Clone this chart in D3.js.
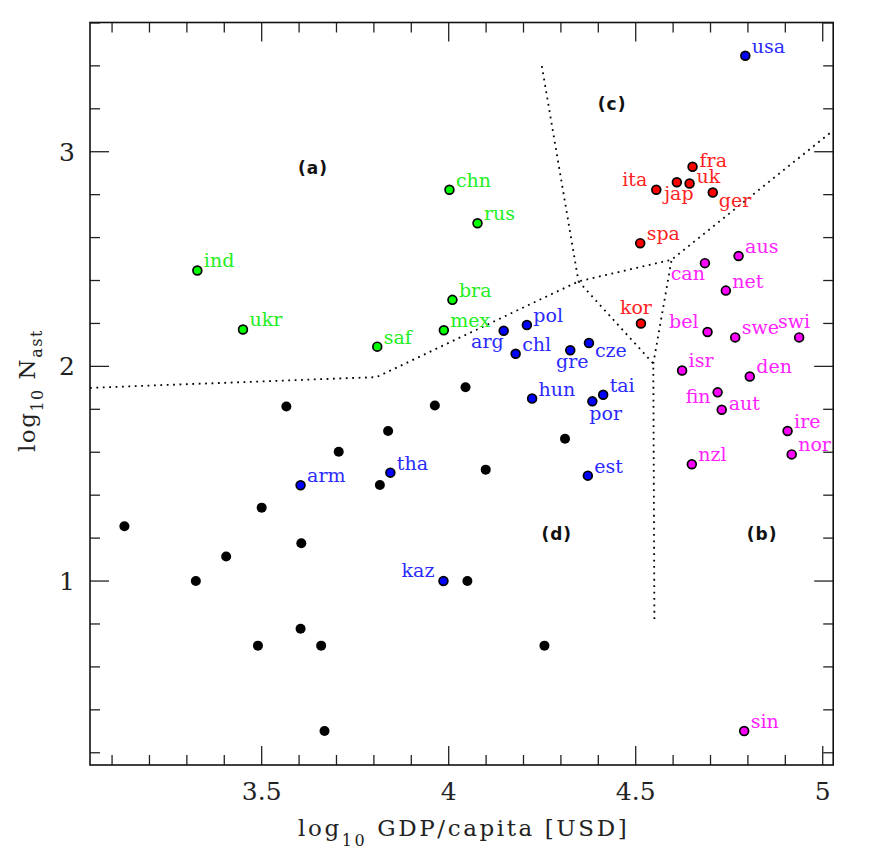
<!DOCTYPE html>
<html>
<head>
<meta charset="utf-8">
<script src="https://cdn.jsdelivr.net/npm/d3@7"></script>
<style>
  html, body { margin: 0; padding: 0; background: #fff; }
  svg { display: block; }
</style>
</head>
<body>
<svg id="chart" width="885" height="860"></svg>
<script>
// ---------------- DATA ----------------
const names   = ['ind','ukr','saf','chn','rus','bra','mex',
                 'usa','fra','uk','ita','jap','ger','spa','kor',
                 'aus','can','net','bel','swe','swi','isr','den','fin','aut','ire','nor','nzl','sin',
                 'pol','arg','chl','gre','cze','hun','por','tai','est','tha','arm','kaz'];
const logGDP  = [3.328,3.450,3.809,4.002,4.077,4.010,3.987,
                 4.793,4.652,4.644,4.555,4.610,4.706,4.512,4.514,
                 4.775,4.685,4.741,4.692,4.766,4.937,4.624,4.805,4.719,4.730,4.906,4.917,4.650,4.790,
                 4.209,4.147,4.179,4.325,4.375,4.223,4.384,4.413,4.372,3.844,3.604,3.986];
const logNast = [2.447,2.172,2.092,2.823,2.667,2.310,2.168,
                 3.447,2.930,2.852,2.823,2.858,2.810,2.574,2.200,
                 2.514,2.481,2.353,2.160,2.135,2.135,1.981,1.953,1.879,1.798,1.699,1.590,1.544,0.301,
                 2.193,2.166,2.059,2.075,2.109,1.850,1.837,1.868,1.491,1.505,1.446,1.000];
const group   = ['a','a','a','a','a','a','a',
                 'd','c','c','c','c','c','c','c',
                 'b','b','b','b','b','b','b','b','b','b','b','b','b','b',
                 'd','d','d','d','d','d','d','d','d','d','d','d'];
// label placement code relative to its point
const placement = ['ne','ne','ne','ne','ne','ne','ne',
                   'ne','e','e','w','s','se','ne','n',
                   'ne','sw','ne','w','ne','n','ne','ne','wsw','e','ne','ne','ne','ne',
                   'ne','sw','ne','s','se','ne','sse','ne','ne','ne','ne','w'];

// unlabelled countries
const otherGDP  = [3.566,3.963,4.045,3.838,3.706,3.816,4.099,4.311,3.500,3.133,
                   3.606,3.405,3.324,4.050,3.604,3.490,3.659,4.256,3.668];
const otherNast = [1.813,1.818,1.903,1.699,1.602,1.447,1.519,1.663,1.342,1.255,
                   1.176,1.114,1.000,1.000,0.778,0.699,0.699,0.699,0.301];

// region boundaries (dotted)
const boundaries = [
  [[3.041,1.900],[3.807,1.950],[4.347,2.396],[4.596,2.497],[5.028,3.099]],
  [[4.249,3.399],[4.347,2.396]],
  [[4.347,2.396],[4.547,2.013],[4.550,0.812]],
  [[4.547,2.013],[4.596,2.497]]
];
const regionNames = ['(a)','(c)','(d)','(b)'];
const regionX     = [3.637,4.437,4.289,4.838];
const regionY     = [2.922,3.220,1.221,1.221];

const xMajorTicks = [3.5, 4, 4.5, 5];
const xTickLabels = ['3.5','4','4.5','5'];
const yMajorTicks = [1, 2, 3];
const yTickLabels = ['1','2','3'];

const groupColor = {a:'#00ff00', b:'#ff00ff', c:'#ff0000', d:'#0000ff'};
const labelColor = {a:'#22ee22', b:'#ff22ff', c:'#ff2222', d:'#2a2aff'};

// ---------------- LAYOUT ----------------
const svg = d3.select('#chart');
const L = 90, R = 833.2, T = 22.5, B = 765;
const x = d3.scaleLinear().domain([3.041, 5.028]).range([L, R]);
const y = d3.scaleLinear().domain([0.143, 3.602]).range([B, T]);

// ticks (inward on all four sides)
const xMinor = d3.range(31, 51).map(d => d/10).filter(v => v >= 3.041 && v <= 5.028);
const yMinor = d3.range(1, 19).map(d => d/5).filter(v => v >= 0.143 && v <= 3.602);
const isMajX = v => xMajorTicks.some(m => Math.abs(m - v) < 1e-6);
const isMajY = v => yMajorTicks.some(m => Math.abs(m - v) < 1e-6);

const axisG = svg.append('g').attr('stroke', '#222').attr('stroke-width', 1.3);
xMinor.forEach(v => {
  const len = isMajX(v) ? 19 : 10;
  axisG.append('line').attr('x1', x(v)).attr('x2', x(v)).attr('y1', B).attr('y2', B - len);
  axisG.append('line').attr('x1', x(v)).attr('x2', x(v)).attr('y1', T).attr('y2', T + len);
});
yMinor.forEach(v => {
  const len = isMajY(v) ? 19 : 10;
  axisG.append('line').attr('y1', y(v)).attr('y2', y(v)).attr('x1', L).attr('x2', L + len);
  axisG.append('line').attr('y1', y(v)).attr('y2', y(v)).attr('x1', R).attr('x2', R - len);
});
svg.append('rect').attr('x', L).attr('y', T).attr('width', R - L).attr('height', B - T)
  .attr('fill', 'none').attr('stroke', '#111').attr('stroke-width', 1.6);

// tick labels
const tickFont = "'DejaVu Serif', serif";
svg.append('g').selectAll('text').data(xMajorTicks).join('text')
  .attr('x', d => x(d)).attr('y', 800)
  .attr('text-anchor', 'middle').attr('font-family', tickFont).attr('font-size', 25)
  .attr('fill', '#222').text((d, i) => xTickLabels[i]);
svg.append('g').selectAll('text').data(yMajorTicks).join('text')
  .attr('x', 67).attr('y', d => y(d) + 9)
  .attr('text-anchor', 'middle').attr('font-family', tickFont).attr('font-size', 25)
  .attr('fill', '#222').text((d, i) => yTickLabels[i]);

// axis titles
const xt = svg.append('text').attr('x', 298).attr('y', 836)
  .attr('font-family', tickFont).attr('font-size', 23).attr('fill', '#222')
  .attr('letter-spacing', 2.6);
xt.append('tspan').text('log');
xt.append('tspan').attr('font-size', 16).attr('dy', 10).text('10');
xt.append('tspan').attr('dy', -10).text(' GDP/capita [USD]');

const yt = svg.append('text').attr('transform', 'translate(35,452) rotate(-90)')
  .attr('font-family', tickFont).attr('font-size', 23).attr('fill', '#222')
  .attr('letter-spacing', 1.5);
yt.append('tspan').text('log');
yt.append('tspan').attr('font-size', 16).attr('dy', 8).text('10');
yt.append('tspan').attr('dy', -8).text(' N');
yt.append('tspan').attr('font-size', 16).attr('dy', 7).text('ast');

// boundaries
const line = d3.line().x(d => x(d[0])).y(d => y(d[1]));
svg.append('g').selectAll('path').data(boundaries).join('path')
  .attr('d', line).attr('fill', 'none').attr('stroke', '#000')
  .attr('stroke-width', 1.8).attr('stroke-dasharray', '1.8,4.6');

// region labels
svg.append('g').selectAll('text').data(regionNames).join('text')
  .attr('x', (d, i) => x(regionX[i])).attr('y', (d, i) => y(regionY[i]) + 6)
  .attr('text-anchor', 'middle').attr('font-family', "'DejaVu Sans', sans-serif")
  .attr('font-weight', 'bold').attr('font-size', 17).attr('letter-spacing', 1)
  .attr('fill', '#111').text(d => d);

// unlabelled points
svg.append('g').selectAll('circle').data(otherGDP).join('circle')
  .attr('cx', d => x(d)).attr('cy', (d, i) => y(otherNast[i])).attr('r', 5)
  .attr('fill', '#000');

// labelled points
svg.append('g').selectAll('circle').data(names).join('circle')
  .attr('cx', (d, i) => x(logGDP[i])).attr('cy', (d, i) => y(logNast[i])).attr('r', 4.4)
  .attr('fill', (d, i) => groupColor[group[i]]).attr('stroke', '#000').attr('stroke-width', 1.7);

// labels
const place = {
  ne:  {a:'start',  dx: 6.5, dy: -3},
  e:   {a:'start',  dx: 7,   dy: 0},
  se:  {a:'start',  dx: 6,   dy: 14},
  s:   {a:'middle', dx: 2,   dy: 18},
  sse: {a:'start',  dx: -3,  dy: 19},
  sw:  {a:'end',    dx: 0,   dy: 17},
  w:   {a:'end',    dx: -9,  dy: -4},
  wsw: {a:'end',    dx: -7,  dy: 11},
  n:   {a:'middle', dx: -5,  dy: -9}
};
svg.append('g').selectAll('text').data(names).join('text')
  .attr('x', (d, i) => x(logGDP[i]) + place[placement[i]].dx)
  .attr('y', (d, i) => y(logNast[i]) + place[placement[i]].dy)
  .attr('text-anchor', (d, i) => place[placement[i]].a)
  .attr('font-family', tickFont).attr('font-size', 19)
  .attr('fill', (d, i) => labelColor[group[i]]).text(d => d);
</script>
</body>
</html>
